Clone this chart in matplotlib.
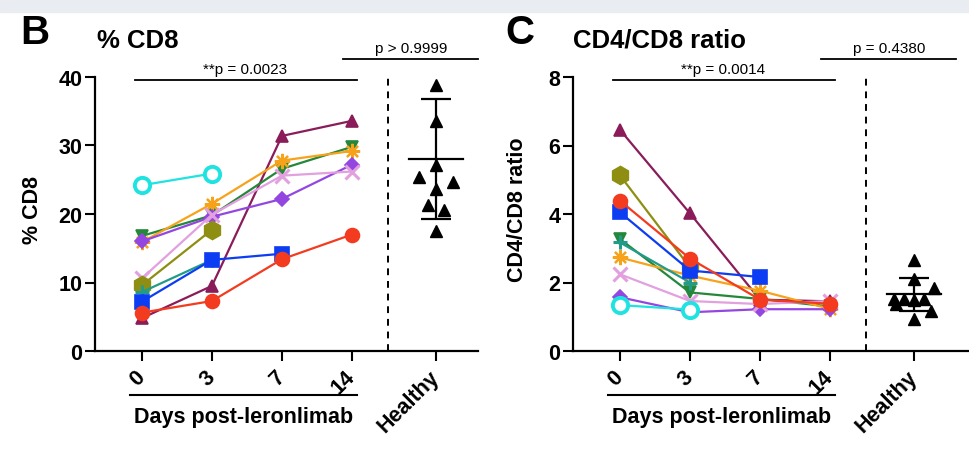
import numpy as np
import matplotlib
matplotlib.use("Agg")
import matplotlib.pyplot as plt
from matplotlib.patches import Rectangle
from matplotlib.transforms import blended_transform_factory

plt.rcParams["font.family"] = ["Liberation Sans", "DejaVu Sans"]

days = ["0", "3", "7", "14"]
healthy_label = "Healthy"

# % CD8 per participant (missing later visits are simply left off)
cd8_red = [5.6, 7.3, 13.4, 17.0]
cd8_maroon = [4.8, 9.5, 31.4, 33.6]
cd8_green = [16.8, 19.8, 26.6, 29.8]
cd8_orange = [15.9, 21.5, 27.8, 29.2]
cd8_purple = [16.0, 19.6, 22.2, 27.2]
cd8_pink = [10.6, 19.9, 25.6, 26.2]
cd8_olive = [9.6, 17.7]
cd8_blue = [7.2, 13.3, 14.2]
cd8_teal = [8.6, 13.3]
cd8_cyan = [24.2, 25.9]

# CD4/CD8 ratio per participant
ratio_red = [4.39, 2.70, 1.50, 1.38]
ratio_maroon = [6.46, 4.02, 1.50, 1.45]
ratio_green = [3.27, 1.71, 1.52, 1.30]
ratio_orange = [2.73, 2.20, 1.76, 1.23]
ratio_purple = [1.57, 1.13, 1.22, 1.22]
ratio_pink = [2.24, 1.46, 1.37, 1.46]
ratio_olive = [5.13, 2.44]
ratio_blue = [4.05, 2.35, 2.16]
ratio_teal = [3.17, 2.00]
ratio_cyan = [1.34, 1.21]

# healthy donors
healthy_cd8 = [38.9, 33.6, 27.1, 25.4, 24.7, 23.7, 21.3, 20.6, 17.5]
healthy_cd8_mean = 28.0
healthy_cd8_sd = 8.8
healthy_ratio = [2.66, 2.10, 1.85, 1.52, 1.52, 1.50, 1.52, 1.37, 1.17, 0.93]
healthy_ratio_mean = 1.65
healthy_ratio_sd = 0.48

# scatter jitter for the healthy column
cd8_jitter = [0, 0, 0, -0.24, 0.24, 0, -0.11, 0.12, 0]
ratio_jitter = [0, 0, 0.28, -0.29, -0.14, 0, 0.14, -0.25, 0.24, 0]

styles = {
    "maroon": dict(color="#8a1c5a", marker="^", ms=9),
    "green": dict(color="#24873a", marker="v", ms=9),
    "orange": dict(color="#f7a21b", marker=(8, 2, 0), ms=11, mew=1.6),
    "purple": dict(color="#9447e0", marker="D", ms=7),
    "pink": dict(color="#e2a0df", marker="x", ms=10, mew=2.2),
    "olive": dict(color="#8e8f12", marker="h", ms=13),
    "teal": dict(color="#229c8a", marker="+", ms=10, mew=2.2),
    "blue": dict(color="#0d3df2", marker="s", ms=10),
    "red": dict(color="#f23b1f", marker="o", ms=10),
    "cyan": dict(color="#1fe3e0", marker="o", ms=11, mfc="white", mew=2.8),
}

cd8_series = {"maroon": cd8_maroon, "green": cd8_green, "orange": cd8_orange,
              "purple": cd8_purple, "pink": cd8_pink, "olive": cd8_olive,
              "teal": cd8_teal, "blue": cd8_blue, "red": cd8_red, "cyan": cd8_cyan}
ratio_series = {"maroon": ratio_maroon, "green": ratio_green, "orange": ratio_orange,
                "purple": ratio_purple, "pink": ratio_pink, "olive": ratio_olive,
                "teal": ratio_teal, "blue": ratio_blue, "red": ratio_red, "cyan": ratio_cyan}

W, H = 970, 452
fig = plt.figure(figsize=(W / 100, H / 100), dpi=100)
fig.patches.append(Rectangle((0, 1 - 13 / H), 1, 13 / H, transform=fig.transFigure,
                             color="#e9ecf0", zorder=0))

HEALTHY_X = 4.2
DASH_X = 3.52


def draw_panel(ax, series, healthy, jitter, mean, sd, ymax, yticks, ylabel,
               ylabel_x, letter, letter_x, title, title_x, p_left, p_right):
    for name, vals in series.items():
        st = dict(styles[name])
        c = st.pop("color")
        st.setdefault("mfc", c)
        st.setdefault("mew", 1.2)
        ax.plot(range(len(vals)), vals, color=c, lw=1.6, mec=c, clip_on=False, **st)

    hx = [HEALTHY_X + j for j in jitter]
    ax.plot(hx, healthy, "^", color="black", ms=9, ls="none", zorder=5, clip_on=False)
    ax.plot([HEALTHY_X - 0.39, HEALTHY_X + 0.39], [mean, mean], color="black", lw=1.6, zorder=4)
    ax.errorbar([HEALTHY_X], [mean], yerr=[sd], color="black", lw=1.6, capsize=11,
                capthick=1.6, zorder=4)
    ax.axvline(DASH_X, ymax=1.0, color="black", lw=1.4, ls=(0, (3.5, 3)))

    ax.set_ylim(0, ymax)
    ax.set_yticks(yticks)
    ax.set_xticks(list(range(len(days))) + [HEALTHY_X])
    ax.set_xticklabels(days + [healthy_label], rotation=45, ha="right", va="center",
                       rotation_mode="anchor")
    for lab in ax.get_xticklabels() + ax.get_yticklabels():
        lab.set_fontweight("bold")
        lab.set_fontsize(15.5)
    ax.tick_params(axis="x", length=7, width=1.5, pad=9)
    ax.tick_params(axis="y", length=7, width=1.5, pad=2)
    for s in ("top", "right"):
        ax.spines[s].set_visible(False)
    for s in ("left", "bottom"):
        ax.spines[s].set_linewidth(1.6)

    ax.set_ylabel(ylabel, fontsize=15.5, fontweight="bold")
    ax.yaxis.set_label_coords(ylabel_x, 0.52)

    tr = blended_transform_factory(ax.transData, ax.transAxes)
    # days bracket + label
    ax.plot([-0.17, 3.07], [-0.16, -0.16], color="black", lw=1.5, transform=tr, clip_on=False)
    ax.text(1.45, -0.24, "Days post-leronlimab", transform=tr, ha="center", va="center",
            fontsize=15.5, fontweight="bold")
    # significance bars
    ax.plot([-0.1, 3.07], [0.99, 0.99], color="black", lw=1.3, transform=tr, clip_on=False)
    ax.text(1.48, 1.03, p_left, transform=tr, ha="center", va="center", fontsize=11)
    ax.plot([2.87, 4.8], [1.065, 1.065], color="black", lw=1.3, transform=tr, clip_on=False)
    ax.text(3.85, 1.105, p_right, transform=tr, ha="center", va="center", fontsize=11)

    fig.text(letter_x / W, 1 - 33 / H, letter, fontsize=29, fontweight="bold",
             ha="center", va="center")
    fig.text(title_x / W, 1 - 41 / H, title, fontsize=18.5, fontweight="bold",
             ha="left", va="center")


axB = fig.add_axes([95 / W, (H - 352) / H, 383 / W, 274 / H])
axB.set_xlim(-0.67, 4.8)
draw_panel(axB, cd8_series, healthy_cd8, cd8_jitter, healthy_cd8_mean, healthy_cd8_sd,
           40, [0, 10, 20, 30, 40], "% CD8", -0.135, "B", 35, "% CD8", 97,
           "**p = 0.0023", "p > 0.9999")

axC = fig.add_axes([573 / W, (H - 352) / H, 397 / W, 274 / H])
axC.set_xlim(-0.67, 5.0)
draw_panel(axC, ratio_series, healthy_ratio, ratio_jitter, healthy_ratio_mean,
           healthy_ratio_sd, 8, [0, 2, 4, 6, 8], "CD4/CD8 ratio", -0.113, "C", 520,
           "CD4/CD8 ratio", 573, "**p = 0.0014", "p = 0.4380")

fig.savefig("out.png", dpi=100)
